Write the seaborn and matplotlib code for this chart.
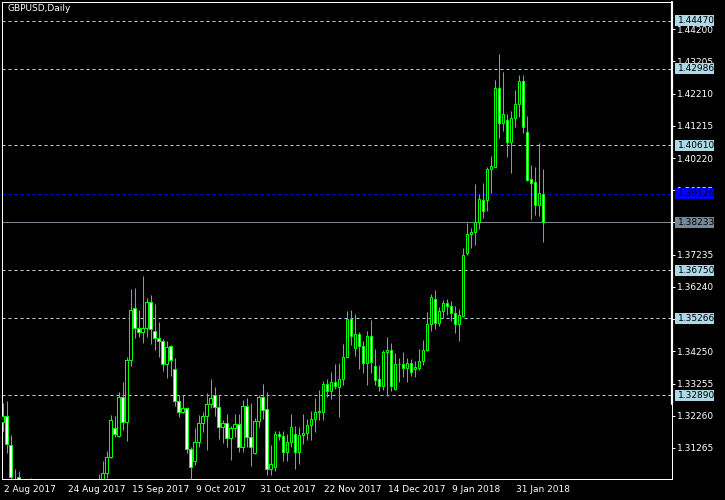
import numpy as np
import matplotlib
matplotlib.use("Agg")
import matplotlib.pyplot as plt
import matplotlib.transforms as mtransforms
from matplotlib.patches import Rectangle
import seaborn as sns

# daily GBPUSD candles, bar 0 = 2 Aug 2017, last bar = 9 Feb 2018
opens = [
    1.3207, 1.3225, 1.3137, 1.3020, 1.3036, 1.2990, 1.2965, 1.2990, 1.3010, 1.2975,
    1.2945, 1.2950, 1.2910, 1.2895, 1.2875, 1.2895, 1.2855, 1.2795, 1.2810, 1.2880,
    1.2925, 1.2940, 1.2925, 1.2935, 1.2960, 1.3000, 1.3048, 1.3099, 1.3187, 1.3163,
    1.3283, 1.3208, 1.3398, 1.3558, 1.3496, 1.3486, 1.3496, 1.3576, 1.3488, 1.3465,
    1.3458, 1.3385, 1.3441, 1.3370, 1.3272, 1.3236, 1.3249, 1.3122, 1.3086, 1.3144,
    1.3205, 1.3225, 1.3261, 1.3290, 1.3252, 1.3190, 1.3205, 1.3156, 1.3187, 1.3199,
    1.3128, 1.3256, 1.3161, 1.3110, 1.3210, 1.3283, 1.3246, 1.3060, 1.3068, 1.3171,
    1.3164, 1.3113, 1.3146, 1.3169, 1.3115, 1.3166, 1.3172, 1.3198, 1.3215, 1.3238,
    1.3238, 1.3323, 1.3303, 1.3329, 1.3316, 1.3338, 1.3408, 1.3524, 1.3434, 1.3480,
    1.3441, 1.3390, 1.3472, 1.3380, 1.3338, 1.3319, 1.3422, 1.3429, 1.3310, 1.3385,
    1.3386, 1.3372, 1.3388, 1.3371, 1.3374, 1.3395, 1.3429, 1.3508, 1.3588, 1.3514,
    1.3550, 1.3573, 1.3566, 1.3542, 1.3508, 1.3535, 1.3728, 1.3787, 1.3793, 1.3824,
    1.3891, 1.3893, 1.3987, 1.3996, 1.4238, 1.4130, 1.4140, 1.4073, 1.4145, 1.4189,
    1.4260, 1.4102, 1.3957, 1.3947, 1.3877, 1.3911,
]
highs = [
    1.3265, 1.3271, 1.3166, 1.3060, 1.3055, 1.3010, 1.2995, 1.3034, 1.3020, 1.2985,
    1.2970, 1.2980, 1.2950, 1.2930, 1.2910, 1.2900, 1.2870, 1.2850, 1.2890, 1.2940,
    1.2980, 1.2985, 1.2945, 1.2975, 1.3046, 1.3086, 1.3117, 1.3228, 1.3225, 1.3298,
    1.3330, 1.3406, 1.3617, 1.3621, 1.3553, 1.3658, 1.3589, 1.3599, 1.3571, 1.3516,
    1.3462, 1.3456, 1.3444, 1.3404, 1.3290, 1.3290, 1.3252, 1.3130, 1.3187, 1.3228,
    1.3236, 1.3295, 1.3339, 1.3314, 1.3290, 1.3213, 1.3231, 1.3195, 1.3231, 1.3231,
    1.3274, 1.3280, 1.3266, 1.3218, 1.3290, 1.3324, 1.3300, 1.3135, 1.3180, 1.3180,
    1.3180, 1.3169, 1.3231, 1.3195, 1.3192, 1.3232, 1.3215, 1.3240, 1.3282, 1.3305,
    1.3333, 1.3339, 1.3360, 1.3385, 1.3388, 1.3449, 1.3549, 1.3552, 1.3540, 1.3485,
    1.3458, 1.3488, 1.3522, 1.3431, 1.3382, 1.3429, 1.3468, 1.3452, 1.3419, 1.3405,
    1.3424, 1.3403, 1.3400, 1.3396, 1.3432, 1.3460, 1.3547, 1.3602, 1.3614, 1.3563,
    1.3583, 1.3586, 1.3581, 1.3565, 1.3555, 1.3745, 1.3822, 1.3807, 1.3942, 1.3911,
    1.3944, 1.3993, 1.4029, 1.4264, 1.4344, 1.4289, 1.4158, 1.4168, 1.4233, 1.4279,
    1.4279, 1.4152, 1.4001, 1.3996, 1.4070, 1.3989,
]
lows = [
    1.3180, 1.3112, 1.3020, 1.2985, 1.2960, 1.2950, 1.2955, 1.2975, 1.2960, 1.2925,
    1.2920, 1.2900, 1.2880, 1.2870, 1.2860, 1.2840, 1.2780, 1.2775, 1.2800, 1.2860,
    1.2905, 1.2915, 1.2890, 1.2920, 1.2950, 1.2990, 1.3035, 1.3094, 1.3161, 1.3160,
    1.3182, 1.3149, 1.3380, 1.3465, 1.3468, 1.3452, 1.3468, 1.3448, 1.3429, 1.3408,
    1.3365, 1.3344, 1.3350, 1.3256, 1.3223, 1.3233, 1.3110, 1.3030, 1.3074, 1.3130,
    1.3177, 1.3120, 1.3249, 1.3225, 1.3154, 1.3141, 1.3128, 1.3089, 1.3161, 1.3113,
    1.3115, 1.3128, 1.3071, 1.3108, 1.3192, 1.3215, 1.3043, 1.3043, 1.3056, 1.3151,
    1.3087, 1.3087, 1.3128, 1.3061, 1.3076, 1.3140, 1.3150, 1.3150, 1.3175, 1.3212,
    1.3212, 1.3285, 1.3279, 1.3308, 1.3223, 1.3321, 1.3406, 1.3444, 1.3410, 1.3370,
    1.3357, 1.3321, 1.3357, 1.3321, 1.3303, 1.3305, 1.3287, 1.3303, 1.3305, 1.3331,
    1.3346, 1.3331, 1.3349, 1.3346, 1.3367, 1.3382, 1.3426, 1.3488, 1.3494, 1.3503,
    1.3527, 1.3537, 1.3519, 1.3482, 1.3458, 1.3532, 1.3724, 1.3745, 1.3754, 1.3803,
    1.3838, 1.3857, 1.3915, 1.3996, 1.4083, 1.4107, 1.4024, 1.3977, 1.4119, 1.4150,
    1.4101, 1.3952, 1.3834, 1.3846, 1.3843, 1.3764,
]
closes = [
    1.3225, 1.3140, 1.3037, 1.3028, 1.2990, 1.2965, 1.2990, 1.3010, 1.2975, 1.2945,
    1.2950, 1.2910, 1.2895, 1.2875, 1.2895, 1.2855, 1.2795, 1.2810, 1.2880, 1.2925,
    1.2940, 1.2925, 1.2935, 1.2960, 1.3000, 1.3048, 1.3099, 1.3213, 1.3168, 1.3283,
    1.3208, 1.3398, 1.3553, 1.3496, 1.3486, 1.3496, 1.3576, 1.3493, 1.3465, 1.3458,
    1.3385, 1.3439, 1.3398, 1.3272, 1.3236, 1.3249, 1.3122, 1.3066, 1.3144, 1.3205,
    1.3225, 1.3261, 1.3280, 1.3252, 1.3190, 1.3205, 1.3156, 1.3187, 1.3199, 1.3128,
    1.3256, 1.3161, 1.3130, 1.3210, 1.3283, 1.3244, 1.3060, 1.3077, 1.3171, 1.3164,
    1.3113, 1.3146, 1.3190, 1.3115, 1.3166, 1.3172, 1.3198, 1.3215, 1.3238, 1.3241,
    1.3323, 1.3303, 1.3329, 1.3317, 1.3338, 1.3408, 1.3524, 1.3473, 1.3480, 1.3441,
    1.3390, 1.3472, 1.3393, 1.3336, 1.3319, 1.3422, 1.3429, 1.3319, 1.3385, 1.3386,
    1.3372, 1.3388, 1.3360, 1.3376, 1.3395, 1.3429, 1.3508, 1.3592, 1.3514, 1.3550,
    1.3573, 1.3566, 1.3542, 1.3508, 1.3536, 1.3724, 1.3787, 1.3794, 1.3826, 1.3895,
    1.3857, 1.3987, 1.3998, 1.4238, 1.4130, 1.4157, 1.4073, 1.4145, 1.4189, 1.4260,
    1.4119, 1.3955, 1.3946, 1.3877, 1.3913, 1.38233,
]

date_ticks = [0, 16, 32, 48, 64, 80, 96, 112, 128]
date_labels = ["2 Aug 2017", "24 Aug 2017", "15 Sep 2017", "9 Oct 2017", "31 Oct 2017",
               "22 Nov 2017", "14 Dec 2017", "9 Jan 2018", "31 Jan 2018"]
price_ticks = [1.31265, 1.32260, 1.33255, 1.34250, 1.35245, 1.36240, 1.37235,
               1.38230, 1.39225, 1.40220, 1.41215, 1.42210, 1.43205, 1.44200]
level_lines = [1.44470, 1.42986, 1.40610, 1.36750, 1.35266, 1.32890]
blue_level = 1.39126
bid_price = 1.38233

sns.set_style("dark", {"axes.facecolor": "black", "figure.facecolor": "black",
                       "axes.edgecolor": "white", "grid.color": "black"})
plt.rcParams["font.family"] = ["DejaVu Sans"]

GREEN = "#00ff00"
LBLUE = "#add8e6"
px = 0.72  # one pixel in points at dpi 100

fig = plt.figure(figsize=(7.25, 5), dpi=100, facecolor="black")
ax = fig.add_axes([2.3 / 725, 20.7 / 500, 669.7 / 725, 477 / 500])
ax.set_facecolor("black")

o = np.array(opens)
h = np.array(highs)
l = np.array(lows)
c = np.array(closes)
idx = np.arange(len(o))

# wicks
ax.vlines(idx, l, h, color=GREEN, lw=px, zorder=2)
# bodies: bull = black, bear = white
bottom = np.minimum(o, c)
height = np.maximum(np.abs(c - o), 0.00003)
fill = np.where(c >= o, "black", "white")
ax.bar(idx, height, bottom=bottom, width=0.62, color=fill, edgecolor=GREEN,
       linewidth=px, zorder=3)

# horizontal levels
for lv in level_lines:
    ax.axhline(lv, color=LBLUE, lw=px, ls=(0, (3, 3)), zorder=1)
ax.axhline(blue_level, color="#0000ff", lw=px, ls=(0, (3, 3)), zorder=1)
ax.axhline(bid_price, color="#778899", lw=px, zorder=1)

ax.set_xlim(-0.1, 167.3)
ax.set_ylim(1.30295, 1.45034)

# price axis on the right
ax.yaxis.tick_right()
ax.set_yticks(price_ticks)
ax.set_yticklabels([f"{p:.5f}" for p in price_ticks])
ax.tick_params(axis="y", direction="out", length=3 * px, width=px, color="white",
               labelcolor="white", labelsize=6.5, pad=1.2)
ax.set_xticks(date_ticks)
ax.set_xticklabels(date_labels)
ax.tick_params(axis="x", direction="out", length=4 * px, width=px, color="white",
               labelcolor="white", labelsize=6.5, pad=1.5)
shift = mtransforms.ScaledTranslation(1.5 / 100, 0, fig.dpi_scale_trans)
for lab in ax.get_xticklabels():
    lab.set_horizontalalignment("left")
    lab.set_transform(lab.get_transform() + shift)

for s in ax.spines.values():
    s.set_color("white")
    s.set_linewidth(px)
ax.grid(False)

# thick part of the right border
ax.plot([1, 1], [0.158, 1], transform=ax.transAxes, color="white", lw=2.2 * px,
        clip_on=False, zorder=6)

# price labels boxes on the right
blend = mtransforms.blended_transform_factory(ax.transAxes, ax.transData)
box_h = 0.0034
boxes = [(lv, LBLUE) for lv in level_lines] + [(blue_level, "#0000ff"), (bid_price, "#778899")]
for lv, col in boxes:
    ax.add_patch(Rectangle((1.0045, lv - box_h / 2), 0.0582, box_h, transform=blend,
                           facecolor=col, edgecolor="none", clip_on=False, zorder=7))
    ax.text(1.0095, lv, f"{lv:.5f}", transform=blend, color="black", fontsize=6.5,
            ha="left", va="center", clip_on=False, zorder=8)

fig.text(7 / 725, 1 - 4 / 500, "GBPUSD,Daily", color="white", fontsize=6.5,
         ha="left", va="top")

fig.savefig("out.png", dpi=100, facecolor="black")
